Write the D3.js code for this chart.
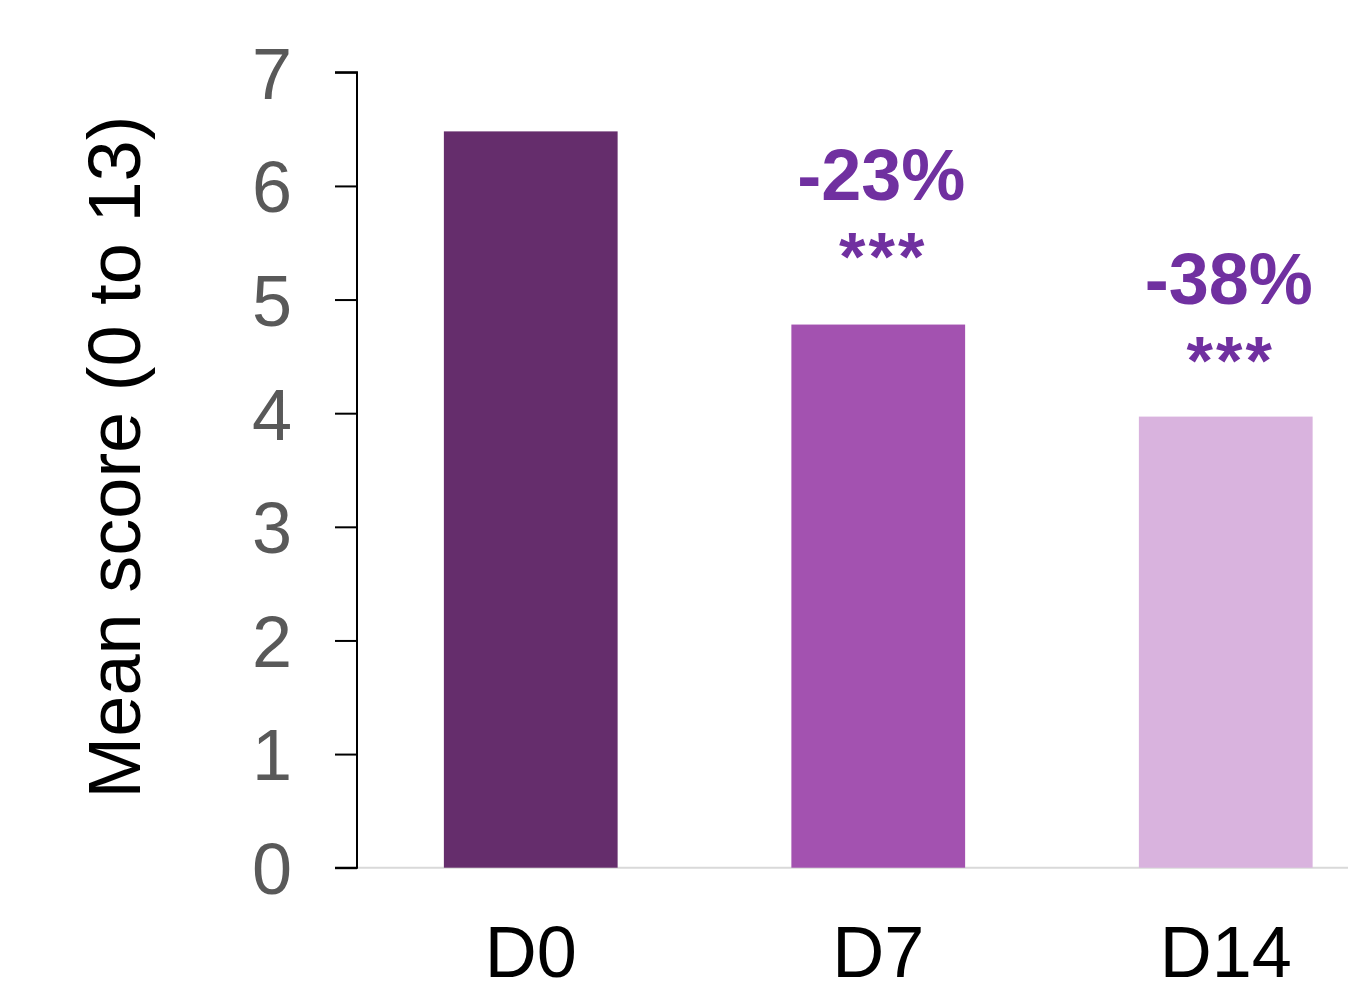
<!DOCTYPE html>
<html>
<head>
<meta charset="utf-8">
<script src="https://cdn.jsdelivr.net/npm/d3@7"></script>
<style>
  html, body { margin: 0; padding: 0; background: #fff; }
  svg { display: block; }
</style>
</head>
<body>
<svg id="chart" width="1348" height="991"></svg>
<script>
// Mean score by visit
const categories = ["D0", "D7", "D14"];
const values = [6.48, 4.78, 3.97];
const barColors = ["#652d6c", "#a352b0", "#d9b3de"];
const changeLabels = [null, "-23%", "-38%"];
const sigLabels = [null, "***", "***"];
const yTicks = [0, 1, 2, 3, 4, 5, 6, 7];

// vertical lift (px) of each annotation block above its bar top
const annotationLift = [0, 125, 113];

const svg = d3.select("#chart");
const font = "Liberation Sans, Arial, Helvetica, sans-serif";

const x = d3.scaleBand()
  .domain(categories)
  .range([357, 1399.5])
  .paddingInner(0.5)
  .paddingOuter(0.25);

const y = d3.scaleLinear()
  .domain([0, 7])
  .range([867.7, 72.3]);

// baseline along the category axis
svg.append("line")
  .attr("x1", 357).attr("x2", 1348)
  .attr("y1", y(0)).attr("y2", y(0))
  .attr("stroke", "#d9d9d9").attr("stroke-width", 2);

// bars
svg.selectAll("rect.bar")
  .data(categories)
  .join("rect")
  .attr("class", "bar")
  .attr("x", d => x(d))
  .attr("width", x.bandwidth())
  .attr("y", (d, i) => y(values[i]))
  .attr("height", (d, i) => y(0) - y(values[i]))
  .attr("fill", (d, i) => barColors[i]);

// y axis
const yAxis = svg.append("g")
  .attr("transform", "translate(357,0)")
  .call(d3.axisLeft(y).tickValues(yTicks).tickSize(22).tickPadding(45).tickFormat(d3.format("d")));
yAxis.select(".domain").attr("stroke", "#000").attr("stroke-width", 2).attr("d", `M-22,${y(7)}H0V${y(0)}H-22`);
yAxis.selectAll(".tick line").attr("stroke", "#000").attr("stroke-width", 2);
yAxis.selectAll(".tick text")
  .attr("fill", "#595959")
  .style("font-family", font)
  .style("font-size", "72px")
  .attr("text-anchor", "middle")
  .attr("x", -85)
  .attr("dy", "0.36em");

// x category labels
svg.selectAll("text.xlab")
  .data(categories)
  .join("text")
  .attr("class", "xlab")
  .attr("x", d => x(d) + x.bandwidth() / 2)
  .attr("y", 977)
  .attr("text-anchor", "middle")
  .style("font-family", font)
  .style("font-size", "72px")
  .attr("fill", "#000")
  .text(d => d);

// y axis title
svg.append("text")
  .attr("transform", "translate(140,457) rotate(-90)")
  .attr("text-anchor", "middle")
  .style("font-family", font)
  .style("font-size", "74px")
  .attr("fill", "#000")
  .text("Mean score (0 to 13)");

// change annotations above bars
const ann = categories.map((c, i) => ({ c, v: values[i], change: changeLabels[i], sig: sigLabels[i], lift: annotationLift[i] }))
  .filter(d => d.change);

svg.selectAll("text.change")
  .data(ann)
  .join("text")
  .attr("class", "change")
  .attr("x", d => x(d.c) + x.bandwidth() / 2 + 3)
  .attr("y", d => y(d.v) - d.lift)
  .attr("text-anchor", "middle")
  .style("font-family", font)
  .style("font-size", "72px")
  .style("font-weight", "bold")
  .style("letter-spacing", "0px")
  .attr("fill", "#7030a0")
  .text(d => d.change);

svg.selectAll("text.sig")
  .data(ann)
  .join("text")
  .attr("class", "sig")
  .attr("x", d => x(d.c) + x.bandwidth() / 2 + 5)
  .attr("y", d => y(d.v) - d.lift + 80)
  .attr("text-anchor", "middle")
  .style("font-family", font)
  .style("font-size", "68px")
  .style("font-weight", "bold")
  .style("letter-spacing", "3px")
  .attr("fill", "#7030a0")
  .text(d => d.sig);
</script>
</body>
</html>
